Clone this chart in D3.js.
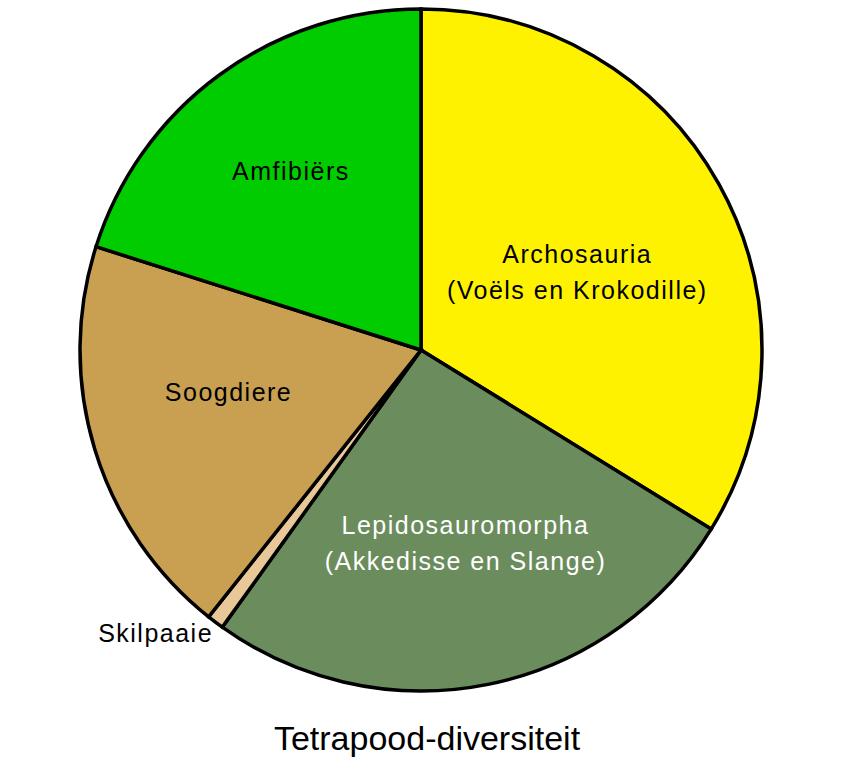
<!DOCTYPE html>
<html><head><meta charset="utf-8">
<script src="https://cdn.jsdelivr.net/npm/d3@7"></script>
<style>body{margin:0;background:#fff}svg{display:block}</style>
</head><body>
<svg id="c" width="841" height="763"></svg>
<script>
const categories = ["Archosauria", "Lepidosauromorpha", "Skilpaaie", "Soogdiere", "Amfibiërs"];
const values = [33.8, 26.1, 0.8, 19.2, 20.1];
const labelLines = [["Archosauria", "(Voëls en Krokodille)"], ["Lepidosauromorpha", "(Akkedisse en Slange)"], ["Skilpaaie"], ["Soogdiere"], ["Amfibiërs"]];
const colors = ["#fff200", "#6b8c5c", "#e8c898", "#c9a052", "#00cc00"];
const textColors = ["#000", "#fff", "#000", "#000", "#000"];
const title = "Tetrapood-diversiteit";

const svg = d3.select("#c");
const cx = 421, cy = 350, R = 341;
const g = svg.append("g").attr("transform", `translate(${cx},${cy})`);
const pie = d3.pie().sort(null).value(d => d);
const arcs = pie(values);
const arc = d3.arc().innerRadius(0).outerRadius(R);
g.selectAll("path").data(arcs).enter().append("path")
  .attr("d", arc).attr("fill", (d, i) => colors[i])
  .attr("stroke", "#000").attr("stroke-width", 3.5).attr("stroke-linejoin", "miter");

// label layout (radius fraction and angular shift)
const labelFrac = [0.51, 0.58, 1.14, 0.58, 0.65];
const labelAngleShift = [0.045, -0.025, 0.107, 0.08, 0];
const ls = 1.5;
arcs.forEach((d, i) => {
  const a = (d.startAngle + d.endAngle) / 2 + labelAngleShift[i];
  const r = R * labelFrac[i];
  const x = Math.sin(a) * r + ls / 2, y = -Math.cos(a) * r;
  const lines = labelLines[i];
  const lh = 36;
  const t = g.append("text").attr("text-anchor", "middle")
    .attr("font-family", "Liberation Sans, Arial, sans-serif").attr("font-size", 25)
    .attr("letter-spacing", ls)
    .attr("fill", textColors[i]);
  lines.forEach((ln, k) => {
    t.append("tspan").attr("x", x).attr("y", y + (k - (lines.length - 1) / 2) * lh)
      .attr("dy", "0.35em").text(ln);
  });
});

svg.append("text").attr("x", 427).attr("y", 738).attr("text-anchor", "middle")
  .attr("dy", "0.35em")
  .attr("font-family", "Liberation Sans, Arial, sans-serif").attr("font-size", 34)
  .attr("fill", "#000").text(title);
</script>
</body></html>
